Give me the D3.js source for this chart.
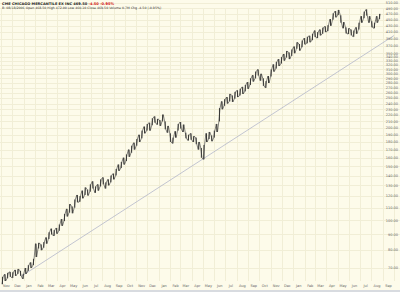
<!DOCTYPE html>
<html>
<head>
<meta charset="utf-8">
<script src="https://cdn.jsdelivr.net/npm/d3@7"></script>
<style>
  body { margin: 0; background: #fff; }
  svg { display: block; }
</style>
</head>
<body>
<script>
// weekly bars, first week starts Mon 3 Nov 2003
var firstWeek = "2003-11-03";
var highs = [65.5, 66.8, 67.5, 68.0, 67.8, 69.0, 69.5, 68.5, 67.0,
    70.0, 71.5, 73.0, 75.0,
    84.0, 84.5, 83.5, 85.0,
    88.0, 91.5, 94.0, 93.0, 94.5,
    97.0, 101.0, 105.0, 109.0,
    113.0, 111.0, 117.0, 121.0,
    120.0, 125.0, 128.0, 126.0, 131.0,
    134.0, 129.0, 131.0, 136.0,
    138.0, 133.0, 136.0, 140.0, 142.0,
    147.0, 152.0, 155.0, 160.0,
    164.0, 170.0, 175.0, 179.0, 184.0,
    190.0, 196.0, 202.0, 206.0,
    208.0, 215.0, 218.0, 214.0,
    212.0, 221.0, 210.0, 203.0, 192.0,
    186.0, 195.0, 206.0, 209.0,
    205.0, 193.0, 190.0, 192.0,
    188.0, 186.0, 180.0, 172.0, 176.0,
    192.0, 194.0, 189.0, 196.0,
    206.0, 232.0, 244.0, 248.0,
    252.0, 258.0, 255.0, 262.0, 265.0,
    268.0, 272.0, 276.0, 282.0,
    290.0, 297.0, 305.0, 310.0,
    300.0, 290.0, 284.0, 295.0, 310.0,
    322.0, 328.0, 335.0, 340.0,
    348.0, 356.0, 352.0, 360.0,
    368.0, 380.0, 375.0, 385.0, 392.0,
    396.0, 399.0, 405.0, 415.0,
    410.0, 418.0, 424.0, 428.0,
    432.0, 452.0, 472.0, 480.0,
    484.0, 465.0, 442.0, 425.0, 422.0,
    418.0, 415.0, 425.0, 440.0,
    462.0, 478.0, 486.0, 462.0,
    445.0, 440.0, 462.0, 470.0];
var lows = [62.0, 63.5, 64.8, 65.5, 65.0, 66.0, 67.0, 66.0, 64.5,
    67.0, 68.5, 70.0, 71.5,
    76.0, 81.0, 80.0, 81.5,
    84.0, 87.0, 90.0, 89.0, 90.5,
    92.5, 96.0, 99.5, 103.0,
    106.0, 105.5, 110.0, 114.5,
    115.0, 118.0, 121.0, 120.5, 124.0,
    127.0, 123.0, 125.0, 129.0,
    131.0, 127.0, 130.0, 133.0, 136.0,
    140.0, 145.0, 148.0, 152.0,
    156.0, 161.0, 166.0, 170.0, 175.0,
    180.0, 185.0, 192.0, 196.0,
    196.0, 204.0, 208.0, 205.0,
    203.0, 210.0, 198.0, 193.0, 180.0,
    178.0, 186.0, 196.0, 199.0,
    194.0, 185.0, 182.0, 183.0,
    180.0, 177.0, 170.0, 160.0, 158.0,
    180.0, 184.0, 181.0, 186.0,
    194.0, 210.0, 230.0, 236.0,
    240.0, 244.0, 243.0, 249.0, 252.0,
    255.0, 258.0, 263.0, 268.0,
    276.0, 283.0, 290.0, 296.0,
    285.0, 274.0, 270.0, 280.0, 294.0,
    305.0, 312.0, 318.0, 324.0,
    331.0, 339.0, 335.0, 343.0,
    350.0, 362.0, 357.0, 366.0, 374.0,
    377.0, 380.0, 386.0, 395.0,
    392.0, 400.0, 405.0, 410.0,
    413.0, 430.0, 450.0, 458.0,
    466.0, 440.0, 422.0, 406.0, 404.0,
    400.0, 396.0, 405.0, 418.0,
    440.0, 455.0, 464.0, 440.0,
    425.0, 422.0, 440.0, 452.0];

var yTicks = [510, 490, 470, 450, 430, 410, 390, 370, 350, 340, 330, 320, 310, 300,
    290, 280, 270, 260, 250, 240, 230, 220, 210, 200, 190, 180, 170, 160, 150,
    140, 130, 120, 110, 100, 90, 80, 70];
var monthNames = ["Jan", "Feb", "Mar", "Apr", "May", "Jun", "Jul", "Aug", "Sep", "Oct", "Nov", "Dec"];

// trend line through two lows
var trendFrom = { date: "2003-12-27", price: 65.9 };
var trendTo = { date: "2005-04-27", price: 157.3 };

var title = "CME CHICAGO MERCANTILE EX INC";
var lastClose = "469.50", change = "-4.50", changePct = "-0.95%";
var infoLine = "B: 08/18/2006 Open 468.50 High 472.00 Low 460.10 Close 469.50 Volume 0.7M Chg -4.50 (-0.95%)";

var width = 400, height = 292;
var parse = d3.timeParse("%Y-%m-%d");

var svg = d3.select("body").append("svg")
    .attr("width", width)
    .attr("height", height);

svg.append("rect")
    .attr("width", width)
    .attr("height", height)
    .attr("fill", "#fdfbea");

var x = d3.scaleTime()
    .domain([new Date(2003, 10, 1), new Date(2006, 9, 1)])
    .range([1, 394]);
var y = d3.scaleLog()
    .domain([70, 510])
    .range([268, 3]);

var plotBottom = 281;

// grid
var months = d3.timeMonth.range(new Date(2003, 10, 1), new Date(2006, 9, 2));
svg.append("g").selectAll("line")
    .data(months)
    .enter().append("line")
    .attr("x1", function(d) { return Math.round(x(d)) + 0.5; })
    .attr("x2", function(d) { return Math.round(x(d)) + 0.5; })
    .attr("y1", 8)
    .attr("y2", plotBottom)
    .attr("stroke", "#f1eed6")
    .attr("stroke-width", 1);

svg.append("g").selectAll("line")
    .data(yTicks)
    .enter().append("line")
    .attr("x1", 0)
    .attr("x2", 400)
    .attr("y1", function(d) { return Math.round(y(d)) + 0.5; })
    .attr("y2", function(d) { return Math.round(y(d)) + 0.5; })
    .attr("stroke", "#f1eed6")
    .attr("stroke-width", 1);

// trend line, extended to the right edge in log space
var t0 = parse(trendFrom.date), t1 = parse(trendTo.date);
var slope = (Math.log(trendTo.price) - Math.log(trendFrom.price)) / (t1 - t0);
var tEnd = x.domain()[1];
var pEnd = Math.exp(Math.log(trendFrom.price) + slope * (tEnd - t0));
svg.append("line")
    .attr("x1", x(t0))
    .attr("y1", y(trendFrom.price))
    .attr("x2", x(tEnd))
    .attr("y2", y(pEnd))
    .attr("stroke", "#a9aec6")
    .attr("stroke-width", 0.7);

// price bars
var weeks = highs.map(function(h, i) {
    return { date: d3.timeWeek.offset(parse(firstWeek), i), high: h, low: lows[i] };
});
function bx(d) { return x(d3.timeDay.offset(d.date, 2)); }

// jagged trace joining the weekly ranges
var zig = [];
weeks.forEach(function(d, i) {
    if (i % 2 === 0) {
        zig.push([bx(d) - 0.6, y(d.low)], [bx(d) + 0.6, y(d.high)]);
    } else {
        zig.push([bx(d) - 0.6, y(d.high)], [bx(d) + 0.6, y(d.low)]);
    }
});
svg.append("path")
    .attr("d", d3.line()(zig))
    .attr("fill", "none")
    .attr("stroke", "#333")
    .attr("stroke-width", 0.6);

svg.append("g").selectAll("line")
    .data(weeks)
    .enter().append("line")
    .attr("x1", bx)
    .attr("x2", bx)
    .attr("y1", function(d) { return y(d.high); })
    .attr("y2", function(d) { return y(d.low); })
    .attr("stroke", "#2a2a2a")
    .attr("stroke-width", 0.9);

// y labels on the right
svg.append("g").selectAll("text")
    .data(yTicks)
    .enter().append("text")
    .attr("x", 398)
    .attr("y", function(d) { return y(d) + 1.3; })
    .attr("text-anchor", "end")
    .attr("font-family", "DejaVu Sans")
    .attr("font-size", 3.5)
    .attr("fill", "#666")
    .text(function(d) { return d.toFixed(2); });

// month labels
svg.append("g").selectAll("text")
    .data(months.slice(0, -1))
    .enter().append("text")
    .attr("x", function(d) { return x(d3.timeDay.offset(d, 15)); })
    .attr("y", 287)
    .attr("text-anchor", "middle")
    .attr("font-family", "DejaVu Sans")
    .attr("font-size", 3.5)
    .attr("fill", "#666")
    .text(function(d) { return monthNames[d.getMonth()]; });

// bottom strip
svg.append("rect")
    .attr("x", 0)
    .attr("y", 290)
    .attr("width", width)
    .attr("height", 2)
    .attr("fill", "#d8dbe0");

// header
var head = svg.append("text")
    .attr("x", 2)
    .attr("y", 4.5)
    .attr("font-family", "DejaVu Sans")
    .attr("font-size", 3.6)
    .attr("font-weight", "bold")
    .attr("fill", "#222");
head.append("tspan").text(title + "  " + lastClose + "  ");
head.append("tspan").attr("fill", "#d01010").text(change + "  " + changePct);

svg.append("text")
    .attr("x", 2)
    .attr("y", 8.5)
    .attr("font-family", "DejaVu Sans")
    .attr("font-size", 3.2)
    .attr("fill", "#333")
    .text(infoLine);
</script>
</body>
</html>
